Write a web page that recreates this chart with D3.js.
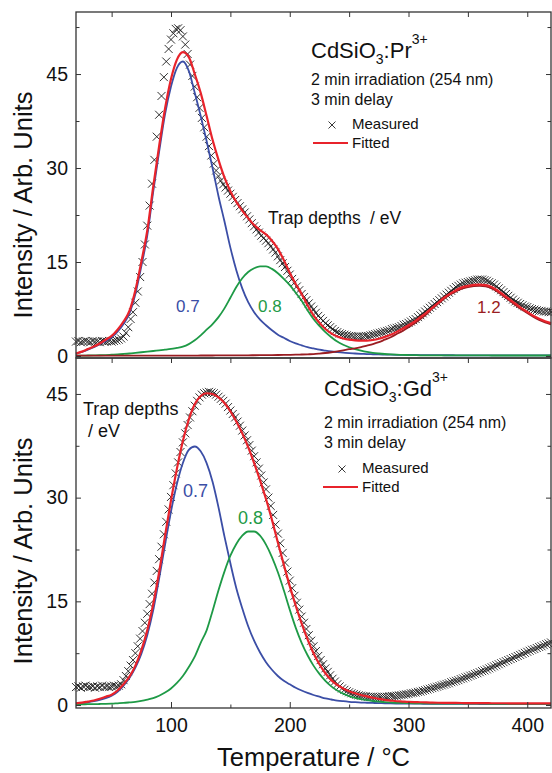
<!DOCTYPE html>
<html>
<head>
<meta charset="utf-8">
<script src="https://d3js.org/d3.v7.min.js"></script>
<style>
  body { margin: 0; background: #fff; }
  svg text { font-family: "Liberation Sans", Arial, sans-serif; fill: #111; }
</style>
</head>
<body>
<div id="graphwindow"></div>
<script>
// temperature grids (degC)
const measT = d3.range(20, 421, 2);
const fitT = d3.range(20, 421, 5);

// CdSiO3:Pr3+ - measured glow curve
const prMeasured = [
  2.3,2.4,2.2,2.3,2.4,2.3,2.2,2.4,2.3,2.3,2.2,2.4,2.3,2.3,2.4,2.3,2.4,2.5,2.6,
  2.8,3.1,3.7,4.6,5.9,7.0,8.5,10.3,12.6,15.0,17.8,20.8,24.0,27.5,31.3,35.0,38.5,41.5,44.5,47.0,49.0,
  50.5,51.5,52.2,52.3,52.0,51.0,49.7,48.2,46.5,44.7,43.0,41.3,39.6,38.0,36.5,35.0,33.5,32.0,30.7,29.6,28.7,
  28.0,27.4,26.9,26.4,25.9,25.4,24.9,24.4,23.9,23.4,22.9,22.3,21.8,21.2,20.7,20.2,19.7,19.2,18.8,18.4,
  18.0,17.5,17.0,16.5,15.9,15.3,14.8,14.2,13.6,13.0,12.3,11.7,11.1,10.5,9.9,9.4,8.9,8.4,7.9,7.4,
  6.9,6.4,6.0,5.6,5.2,4.9,4.6,4.3,4.0,3.8,3.6,3.5,3.4,3.3,3.2,3.2,3.1,3.1,3.1,3.1,
  3.1,3.2,3.2,3.3,3.4,3.5,3.6,3.7,3.8,3.9,4.0,4.1,4.3,4.4,4.5,4.6,4.8,5.0,5.1,5.3,
  5.5,5.7,5.9,6.2,6.5,6.8,7.1,7.4,7.7,8.0,8.3,8.6,8.9,9.2,9.5,9.8,10.1,10.4,10.7,11.0,
  11.2,11.4,11.6,11.7,11.8,11.9,12.0,12.1,12.2,12.2,12.2,12.1,12.0,11.8,11.6,11.4,11.1,10.8,10.5,10.2,
  9.9,9.6,9.3,9.0,8.7,8.5,8.3,8.1,7.9,7.8,7.6,7.5,7.4,7.3,7.2,7.2,7.1,7.1,7.0,7.0
];
// CdSiO3:Pr3+ - fit and components (5 degC grid)
const prFitted = [
  0.4,0.7,1.1,1.5,2.0,2.6,3.2,4.2,5.5,7.2,
  10.5,15.0,20.0,27.0,33.5,39.5,44.2,47.3,48.5,47.7,
  45.0,42.0,38.3,34.5,31.3,28.5,26.3,24.6,23.2,22.0,
  20.9,20.1,19.4,18.4,17.1,15.3,13.3,11.5,9.9,8.1,
  6.5,5.3,4.3,3.6,3.1,2.8,2.6,2.5,2.45,2.45,
  2.55,2.75,3.05,3.4,3.85,4.35,4.9,5.5,6.2,6.9,
  7.7,8.5,9.3,9.95,10.5,10.95,11.2,11.35,11.4,11.3,
  11.0,10.45,9.75,9.05,8.35,7.65,7.05,6.45,5.95,5.55,
  5.25
];
const prTrap07 = [
  0.35,0.65,1.0,1.4,1.9,2.4,3.0,3.9,5.1,6.8,
  9.9,14.3,19.2,26.2,32.6,38.6,43.0,46.0,47.0,45.5,
  42.0,38.3,34.3,30.0,25.5,21.5,17.3,13.7,10.8,8.6,
  7.0,5.8,4.9,4.1,3.4,2.9,2.4,2.0,1.7,1.4,
  1.2,1.0,0.85,0.72,0.62,0.53,0.46,0.4,0.35,0.31,
  0.28,0.25,0.23,0.21,0.19,0.18,0.17,0.16,0.15,0.14,
  0.13,0.13,0.12,0.12,0.11,0.11,0.11,0.1,0.1,0.1,
  0.1,0.1,0.1,0.1,0.1,0.1,0.1,0.1,0.1,0.1,
  0.1
];
const prTrap08 = [
  0.05,0.06,0.08,0.1,0.12,0.15,0.2,0.25,0.32,0.4,
  0.5,0.6,0.7,0.8,0.9,1.0,1.12,1.3,1.5,1.9,
  2.5,3.3,4.2,5.1,6.2,7.6,9.3,11.0,12.4,13.4,
  14.0,14.3,14.3,13.9,13.2,12.3,11.3,10.1,8.8,7.3,
  5.9,4.8,3.8,3.0,2.3,1.8,1.4,1.1,0.85,0.65,
  0.5,0.4,0.32,0.26,0.21,0.17,0.15,0.13,0.11,0.1,
  0.09,0.09,0.09,0.09,0.09,0.09,0.09,0.09,0.09,0.09,
  0.08,0.08,0.08,0.08,0.08,0.08,0.08,0.08,0.08,0.08,
  0.08
];
const prTrap12 = [
  0.05,0.05,0.05,0.05,0.05,0.05,0.05,0.05,0.05,0.05,
  0.05,0.05,0.05,0.06,0.06,0.06,0.06,0.07,0.07,0.07,
  0.07,0.08,0.08,0.08,0.09,0.09,0.1,0.1,0.11,0.11,
  0.12,0.13,0.14,0.15,0.16,0.17,0.19,0.21,0.24,0.27,
  0.3,0.38,0.48,0.6,0.74,0.9,1.08,1.2,1.4,1.65,
  1.9,2.2,2.6,3.0,3.5,4.0,4.6,5.2,5.9,6.65,
  7.55,8.35,9.15,9.8,10.3,10.75,11.0,11.15,11.2,11.1,
  10.8,10.25,9.55,8.85,8.15,7.45,6.85,6.25,5.75,5.35,
  5.05
];

// CdSiO3:Gd3+ - measured glow curve
const gdMeasured = [
  2.6,2.7,2.5,2.7,2.8,2.6,2.6,2.7,2.5,2.7,2.6,2.8,2.6,2.7,2.6,2.7,2.8,2.7,2.8,
  3.0,3.6,4.2,4.9,5.7,6.5,7.5,8.5,9.6,10.7,11.9,13.2,14.6,16.1,17.7,19.4,21.1,22.9,24.7,26.5,28.3,
  30.1,31.8,33.5,35.1,36.6,38.0,39.3,40.5,41.6,42.5,43.3,44.0,44.5,44.9,45.1,45.2,45.3,45.2,45.1,44.9,44.6,
  44.3,44.0,43.6,43.1,42.6,42.1,41.6,41.0,40.4,39.7,39.0,38.3,37.6,36.8,36.0,35.1,34.2,33.2,32.2,31.2,
  30.0,28.8,27.5,26.1,24.8,23.4,22.0,20.6,19.3,18.0,16.9,15.8,14.8,13.8,12.8,11.9,11.0,10.1,9.3,8.5,
  7.8,7.1,6.5,5.9,5.3,4.8,4.3,3.8,3.4,3.0,2.7,2.4,2.2,2.0,1.85,1.7,1.6,1.5,1.4,1.35,
  1.3,1.25,1.2,1.2,1.2,1.15,1.15,1.15,1.2,1.2,1.2,1.25,1.3,1.3,1.35,1.4,1.45,1.5,1.55,1.6,
  1.7,1.75,1.8,1.9,1.95,2.05,2.15,2.25,2.35,2.45,2.55,2.65,2.75,2.85,2.95,3.05,3.15,3.3,3.4,3.5,
  3.6,3.75,3.85,4.0,4.1,4.25,4.35,4.5,4.6,4.75,4.9,5.0,5.15,5.3,5.45,5.6,5.75,5.9,6.05,6.2,
  6.35,6.5,6.65,6.8,6.95,7.1,7.25,7.4,7.55,7.7,7.85,8.0,8.1,8.25,8.4,8.5,8.65,8.8,8.9,9.05
];
const gdFitted = [
  0.25,0.35,0.5,0.65,0.9,1.2,1.5,2.1,3.0,4.1,
  5.7,7.9,10.8,14.6,19.2,24.5,29.6,34.2,38.2,41.3,
  43.5,44.7,45.1,45.0,44.5,43.7,42.5,41.0,39.3,37.3,
  35.0,32.5,29.8,26.8,23.5,20.3,17.2,14.4,11.8,9.5,
  7.5,5.9,4.6,3.6,2.9,2.4,2.0,1.7,1.45,1.25,
  1.05,0.9,0.75,0.65,0.55,0.5,0.45,0.42,0.4,0.37,
  0.35,0.33,0.32,0.31,0.3,0.29,0.28,0.28,0.27,0.27,
  0.26,0.26,0.26,0.25,0.25,0.25,0.25,0.25,0.25,0.25,
  0.25
];
const gdTrap07 = [
  0.2,0.3,0.4,0.55,0.75,1.0,1.35,1.9,2.8,3.9,
  5.4,7.4,10.1,13.7,18.3,23.2,28.0,32.0,35.0,36.9,
  37.4,36.7,35.0,32.3,28.6,24.4,20.5,16.9,14.0,11.4,
  9.3,7.6,6.2,5.1,4.2,3.5,3.0,2.5,2.1,1.75,
  1.45,1.2,0.95,0.8,0.65,0.55,0.47,0.41,0.36,0.33,
  0.3,0.28,0.25,0.23,0.22,0.21,0.2,0.19,0.19,0.18,
  0.18,0.17,0.17,0.17,0.16,0.16,0.16,0.16,0.15,0.15,
  0.15,0.15,0.15,0.15,0.15,0.15,0.15,0.15,0.15,0.15,
  0.15
];
const gdTrap08 = [
  0.1,0.11,0.12,0.13,0.15,0.17,0.2,0.25,0.3,0.38,
  0.47,0.6,0.78,1.0,1.35,1.8,2.4,3.2,4.2,5.5,
  7.0,9.0,10.8,13.6,16.6,19.3,21.6,23.3,24.5,25.1,
  25.1,24.5,23.2,21.4,19.2,16.6,13.8,11.2,9.0,7.2,
  5.7,4.5,3.5,2.7,2.1,1.65,1.3,1.05,0.85,0.7,
  0.58,0.5,0.42,0.37,0.32,0.3,0.27,0.25,0.24,0.23,
  0.22,0.21,0.21,0.2,0.2,0.2,0.2,0.19,0.19,0.19,
  0.18,0.18,0.18,0.18,0.18,0.18,0.18,0.18,0.18,0.18,
  0.18
];

const xMajor = [100, 200, 300, 400];
const xMinor = [50, 150, 250, 350];
const yMajor = [0, 15, 30, 45];
const yMinorTop = [7.5, 22.5, 37.5, 52.5];
const yMinorBot = [7.5, 22.5, 37.5];

const W = 552, H = 773;
const pLeft = 76, pRight = 551, pTop = 12, pMid = 358, pBottom = 708;
const frameColor = "#333";
const colRed = "#e8232b", colBlue = "#3b4ea6", colGreen = "#1e9a46", colDark = "#9a1d22";

const svg = d3
  .select("#graphwindow")
  .append("svg")
  .attr("width", W)
  .attr("height", H);

const x = d3.scaleLinear().domain([20, 420]).range([pLeft, pRight]);
const yTop = d3.scaleLinear().domain([-0.32, 54.9]).range([pMid, pTop]);
const yBot = d3.scaleLinear().domain([-0.43, 50.2]).range([pBottom, pMid]);

const crossPath = "M-4,-4L4,4M-4,4L4,-4";

function drawPanel(y, y0, y1, minorY, measured, lines, labelY) {
  const g = svg.append("g");

  // measured points
  g.append("g")
    .selectAll("path")
    .data(d3.zip(measT, measured))
    .enter()
    .append("path")
    .attr("transform", (d) => "translate(" + x(d[0]) + "," + y(d[1]) + ")")
    .attr("d", crossPath)
    .style("fill", "none")
    .style("stroke", "#1a1a1a")
    .style("stroke-width", 0.9);

  // fitted curves
  const line = d3
    .line()
    .x((d) => x(d[0]))
    .y((d) => y(d[1]))
    .curve(d3.curveMonotoneX);

  lines.forEach(function (l) {
    g.append("path")
      .datum(d3.zip(fitT, l.values))
      .attr("d", line)
      .style("fill", "none")
      .style("stroke", l.color)
      .style("stroke-width", l.width);
  });

  // y axis (ticks inward)
  g.append("g")
    .attr("transform", "translate(" + pLeft + ",0)")
    .attr("color", frameColor)
    .call(d3.axisLeft(y).tickValues(yMajor).tickSize(-5).tickPadding(8).tickFormat(d3.format("d")))
    .call((a) => a.select(".domain").remove())
    .selectAll("text")
    .style("font-size", "19.5px")
    .style("fill", "#111");
  g.append("g")
    .attr("transform", "translate(" + pLeft + ",0)")
    .attr("color", frameColor)
    .call(d3.axisLeft(y).tickValues(minorY).tickSize(-3.5).tickFormat(""))
    .call((a) => a.select(".domain").remove());

  // right side ticks
  g.append("g")
    .attr("transform", "translate(" + pRight + ",0)")
    .attr("color", frameColor)
    .call(d3.axisRight(y).tickValues(yMajor).tickSize(-5).tickFormat(""))
    .call((a) => a.select(".domain").remove());
  g.append("g")
    .attr("transform", "translate(" + pRight + ",0)")
    .attr("color", frameColor)
    .call(d3.axisRight(y).tickValues(minorY).tickSize(-3.5).tickFormat(""))
    .call((a) => a.select(".domain").remove());

  // frame
  g.append("rect")
    .attr("x", pLeft)
    .attr("y", y1)
    .attr("width", pRight - pLeft)
    .attr("height", y0 - y1)
    .style("fill", "none")
    .style("stroke", frameColor)
    .style("stroke-width", 1.3);

  // y title
  g.append("text")
    .attr("transform", "translate(32," + labelY + ") rotate(-90)")
    .attr("text-anchor", "middle")
    .style("font-size", "25.5px")
    .text("Intensity / Arb. Units");

  return g;
}

drawPanel(yTop, pMid, pTop, yMinorTop, prMeasured, [
  { values: prTrap07, color: colBlue, width: 1.8 },
  { values: prTrap08, color: colGreen, width: 1.8 },
  { values: prTrap12, color: colDark, width: 1.8 },
  { values: prFitted, color: colRed, width: 2.2 }
], 205);

drawPanel(yBot, pBottom, pMid, yMinorBot, gdMeasured, [
  { values: gdTrap07, color: colBlue, width: 1.8 },
  { values: gdTrap08, color: colGreen, width: 1.8 },
  { values: gdFitted, color: colRed, width: 2.2 }
], 551);

// x ticks: top of upper panel, shared border, bottom axis
svg.append("g")
  .attr("transform", "translate(0," + pTop + ")")
  .attr("color", frameColor)
  .call(d3.axisTop(x).tickValues(xMajor.concat(xMinor)).tickSize(-5).tickFormat(""))
  .call((a) => a.select(".domain").remove());
svg.append("g")
  .attr("transform", "translate(0," + pMid + ")")
  .attr("color", frameColor)
  .call(d3.axisBottom(x).tickValues(xMajor.concat(xMinor)).tickSize(5).tickFormat(""))
  .call((a) => a.select(".domain").remove());
svg.append("g")
  .attr("transform", "translate(0," + pBottom + ")")
  .attr("color", frameColor)
  .call(d3.axisBottom(x).tickValues(xMajor).tickSize(-6).tickPadding(10).tickFormat(d3.format("d")))
  .call((a) => a.select(".domain").remove())
  .selectAll("text")
  .style("font-size", "19.5px")
  .style("fill", "#111");
svg.append("g")
  .attr("transform", "translate(0," + pBottom + ")")
  .attr("color", frameColor)
  .call(d3.axisBottom(x).tickValues(xMinor).tickSize(-3.5).tickFormat(""))
  .call((a) => a.select(".domain").remove());

svg.append("text")
  .attr("x", (pLeft + pRight) / 2)
  .attr("y", 766)
  .attr("text-anchor", "middle")
  .style("font-size", "25.5px")
  .text("Temperature / \u00B0C");

// annotations
function title(tx, ty, ion) {
  const t = svg.append("text").attr("x", tx).attr("y", ty).style("font-size", "22px");
  t.append("tspan").text("CdSiO");
  t.append("tspan").attr("dy", 6).style("font-size", "14px").text("3");
  t.append("tspan").attr("dy", -6).text(":" + ion);
  t.append("tspan").attr("dy", -14).style("font-size", "14px").text("3+");
}
function label(tx, ty, size, color, str) {
  svg.append("text")
    .attr("x", tx)
    .attr("y", ty)
    .style("font-size", size + "px")
    .style("fill", color)
    .text(str);
}
function legend(lx, ly) {
  svg.append("path")
    .attr("transform", "translate(" + (lx + 19) + "," + (ly - 4) + ")")
    .attr("d", "M-3.5,-3.5L3.5,3.5M-3.5,3.5L3.5,-3.5")
    .style("fill", "none")
    .style("stroke", "#222")
    .style("stroke-width", 0.9);
  label(lx + 39, ly, 15, "#111", "Measured");
  svg.append("line")
    .attr("x1", lx).attr("x2", lx + 35)
    .attr("y1", ly + 14).attr("y2", ly + 14)
    .style("stroke", colRed)
    .style("stroke-width", 2.2);
  label(lx + 39, ly + 19, 15, "#111", "Fitted");
}

title(311, 58, "Pr");
label(311, 85, 16, "#111", "2 min irradiation (254 nm)");
label(311, 105, 16, "#111", "3 min delay");
legend(313, 129);
label(268, 224, 17.5, "#111", "Trap depths");
label(370, 224, 17.5, "#111", "/ eV");
label(176, 312, 17, colBlue, "0.7");
label(258, 312, 17, colGreen, "0.8");
label(477, 313, 17, colDark, "1.2");

title(324, 396, "Gd");
label(324, 428, 16, "#111", "2 min irradiation (254 nm)");
label(324, 448, 16, "#111", "3 min delay");
legend(323, 473);
label(83, 415, 18, "#111", "Trap depths");
label(88, 437, 18, "#111", "/ eV");
label(183, 497, 18, colBlue, "0.7");
label(238, 524, 18, colGreen, "0.8");
</script>
</body>
</html>
